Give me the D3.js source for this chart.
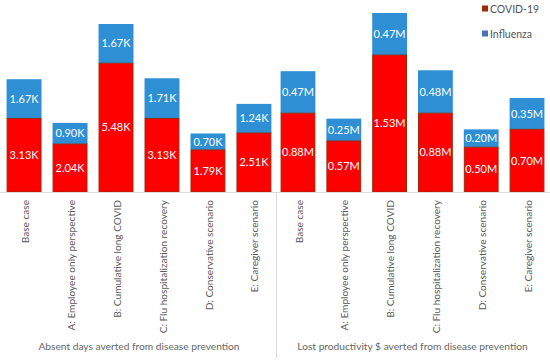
<!DOCTYPE html>
<html><head><meta charset="utf-8">
<script src="https://cdn.jsdelivr.net/npm/d3@7"></script>
<style>body{margin:0;background:#fff}svg{display:block}text{font-family:Lato,"Noto Sans",sans-serif}</style>
</head><body><svg id="c" width="550" height="360"></svg>
<script>
const categories = ["Base case","A: Employee only perspective","B: Cumulative long COVID","C: Flu hospitalization recovery","D: Conservative scenario","E: Caregiver scenario"];
const daysCovid = [3.13, 2.04, 5.48, 3.13, 1.79, 2.51];
const daysFlu   = [1.67, 0.90, 1.67, 1.71, 0.70, 1.24];
const costCovid = [0.88, 0.57, 1.53, 0.88, 0.50, 0.70];
const costFlu   = [0.47, 0.25, 0.47, 0.48, 0.20, 0.35];
const panelTitles = ["Absent days averted from disease prevention","Lost productivity $ averted from disease prevention"];
const seriesNames = ["COVID-19","Influenza"];

const svg = d3.select("#c");
const baseY = 192;
const panels = [
  {covid: daysCovid, flu: daysFlu, unit:"K", range:[2,276], yMax:7.15, top:24, title:panelTitles[0]},
  {covid: costCovid, flu: costFlu, unit:"M", range:[276,549], yMax:2.0, top:13, title:panelTitles[1]}
];
const red = "#ff0000", redStroke = "#9a2a0c", blue = "#2f8fd4";

panels.forEach(p => {
  const x = d3.scaleBand().domain(categories).range(p.range).paddingInner(0.24).paddingOuter(0.1);
  const y = d3.scaleLinear().domain([0, p.yMax]).range([baseY, p.top]);
  const g = svg.append("g");
  categories.forEach((c,i) => {
    const c0 = p.covid[i], f0 = p.flu[i];
    g.append("rect").attr("x", x(c)).attr("width", x.bandwidth())
      .attr("y", y(c0+f0)).attr("height", y(c0) - y(c0+f0)).attr("fill", blue);
    g.append("rect").attr("x", x(c)+0.5).attr("width", x.bandwidth()-1)
      .attr("y", y(c0)).attr("height", y(0) - y(c0)).attr("fill", red)
      .attr("stroke", redStroke).attr("stroke-width", 1);
    g.append("text").attr("x", x(c)+x.bandwidth()/2).attr("y", (y(c0)+y(c0+f0))/2)
      .attr("dy","0.35em").attr("text-anchor","middle").attr("fill","#fff")
      .attr("font-size", 11).text(f0.toFixed(2)+p.unit);
    g.append("text").attr("x", x(c)+x.bandwidth()/2).attr("y", (y(0)+y(c0))/2)
      .attr("dy","0.35em").attr("text-anchor","middle").attr("fill","#fff")
      .attr("font-size", 11).text(c0.toFixed(2)+p.unit);
    g.append("text").attr("transform", `translate(${x(c)+x.bandwidth()/2+1},200) rotate(-90)`)
      .attr("text-anchor","end").attr("dy","0.35em").attr("fill","#595959")
      .attr("font-size", 10.1).text(c);
  });
  g.append("text").attr("x", (p.range[0]+p.range[1])/2).attr("y", 350)
    .attr("text-anchor","middle").attr("fill","#666").attr("font-size", 10.2).text(p.title);
});

svg.append("line").attr("x1",0).attr("x2",550).attr("y1",baseY+0.5).attr("y2",baseY+0.5)
  .attr("stroke","#d9d9d9").attr("stroke-width",1);
svg.append("line").attr("x1",276.5).attr("x2",276.5).attr("y1",baseY).attr("y2",358)
  .attr("stroke","#d9d9d9").attr("stroke-width",1);

const legColors = ["#a0280c", "#4a72c4"];
seriesNames.forEach((s,i) => {
  const ly = 9 + i*25;
  svg.append("rect").attr("x",482).attr("y",ly-3.5).attr("width",6).attr("height",6).attr("fill",legColors[i]);
  svg.append("text").attr("x",490).attr("y",ly).attr("dy","0.35em").attr("fill","#555")
    .attr("font-size",10.5).text(s);
});
</script></body></html>
